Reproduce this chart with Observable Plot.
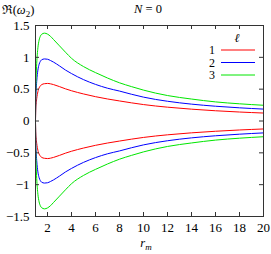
<!DOCTYPE html>
<html><head><meta charset="utf-8">
<script src="https://cdn.jsdelivr.net/npm/d3@7"></script>
<script src="https://cdn.jsdelivr.net/npm/@observablehq/plot@0.6"></script>
<style>body{margin:0;background:#fff} #chart{width:271px;height:254px} svg text{font-family:"Liberation Serif",serif}</style>
</head><body><div id="chart"></div>
<script>
// radii r_m
const rValues = [1, 1.02, 1.05, 1.1, 1.2, 1.3, 1.4, 1.5, 1.75, 2, 2.25, 2.5, 3, 3.5, 4, 5, 6, 7, 8, 9, 10, 12, 14, 16, 18, 20];
// Re(omega_2) upper branch for each ell (lower branch is the negative)
const ell1 = [0, 0.17, 0.26, 0.35, 0.46, 0.52, 0.55, 0.57, 0.586, 0.59, 0.584, 0.572, 0.54, 0.505, 0.475, 0.425, 0.382, 0.346, 0.315, 0.285, 0.258, 0.217, 0.186, 0.161, 0.141, 0.125];
const ell2 = [0, 0.3, 0.46, 0.62, 0.8, 0.89, 0.935, 0.96, 0.975, 0.97, 0.95, 0.925, 0.865, 0.8, 0.745, 0.65, 0.575, 0.515, 0.47, 0.42, 0.375, 0.31, 0.265, 0.232, 0.207, 0.187];
const ell3 = [0, 0.45, 0.67, 0.9, 1.15, 1.27, 1.33, 1.36, 1.38, 1.365, 1.33, 1.28, 1.18, 1.08, 0.985, 0.855, 0.76, 0.675, 0.6, 0.54, 0.485, 0.4, 0.345, 0.3, 0.27, 0.247];
const seriesLabels = ["1", "2", "3"];
const seriesColors = ["#ff0000", "#0000ff", "#00e600"];
const xTicks = [2, 4, 6, 8, 10, 12, 14, 16, 18, 20];
const yTicks = [-1.5, -1, -0.5, 0, 0.5, 1, 1.5];

const seriesValues = [ell1, ell2, ell3];
const rows = [];
seriesValues.forEach((vals, i) => {
  [1, -1].forEach(sign => {
    vals.forEach((v, j) => rows.push({r: rValues[j], v: sign * v, series: seriesLabels[i], key: seriesLabels[i] + (sign > 0 ? "+" : "-")}));
  });
});

const W = 271, H = 254, mL = 35, mR = 8, mT = 25, mB = 38;
const fw = W - mL - mR, fh = H - mT - mB;
const fmt = d => (d < 0 ? "\u2212" : "") + Math.abs(d);
const axisColor = "#333";
const FONT = "Liberation Serif, serif";

const plot = Plot.plot({
  width: W, height: H, marginLeft: mL, marginRight: mR, marginTop: mT, marginBottom: mB,
  style: {fontFamily: FONT, fontSize: "13px", background: "#fff", color: "#000"},
  x: {domain: [1, 20]},
  y: {domain: [-1.5, 1.5]},
  color: {domain: seriesLabels, range: seriesColors},
  marks: [
    Plot.line(rows, {x: "r", y: "v", z: "key", stroke: "series", strokeWidth: 1, curve: "monotone-x"}),
    Plot.tickY(yTicks, {y: d => d, insetRight: fw - 4, stroke: axisColor}),
    Plot.tickY(yTicks, {y: d => d, insetLeft: fw - 4, stroke: axisColor}),
    Plot.tickX(xTicks, {x: d => d, insetTop: fh - 4, stroke: axisColor}),
    Plot.tickX(xTicks, {x: d => d, insetBottom: fh - 4, stroke: axisColor}),
    Plot.axisY(yTicks, {tickSize: 0, tickPadding: 6, label: null, tickFormat: fmt}),
    Plot.axisX(xTicks, {tickSize: 0, tickPadding: 6, label: null, tickFormat: fmt}),
    Plot.frame({stroke: axisColor})
  ]
});
document.getElementById("chart").appendChild(plot);

const svg = d3.select(plot);
const g = svg.append("g").attr("font-family", FONT).attr("font-size", 12.5).attr("fill", "#000");
// title
const t = g.append("text").attr("x", 148).attr("y", 13).attr("text-anchor", "middle");
t.append("tspan").attr("font-style", "italic").text("N");
t.append("tspan").text(" = 0");
// y label
const yl = g.append("text").attr("x", 18).attr("y", 14);
yl.append("tspan").text("\u211C(");
yl.append("tspan").attr("font-style", "italic").text("\u03C9");
yl.append("tspan").attr("font-size", 9).attr("dy", 3).text("2");
yl.append("tspan").attr("dy", -3).text(")");
// x label
const xl = g.append("text").attr("x", 146).attr("y", 247).attr("text-anchor", "middle");
xl.append("tspan").attr("font-style", "italic").text("r");
xl.append("tspan").attr("font-style", "italic").attr("font-size", 9).attr("dy", 3).text("m");
// legend
const lg = g.append("g").attr("font-size", 12);
lg.append("text").attr("x", 237).attr("y", 42).attr("text-anchor", "middle").attr("font-style", "italic").text("\u2113");
seriesLabels.forEach((lab, i) => {
  const y = [50, 62.5, 75][i];
  lg.append("text").attr("x", 215).attr("y", y + 4).attr("text-anchor", "end").text(lab);
  lg.append("line").attr("x1", 221).attr("x2", 255).attr("y1", y).attr("y2", y).attr("stroke", seriesColors[i]).attr("stroke-width", 1);
});
</script>
</body></html>
